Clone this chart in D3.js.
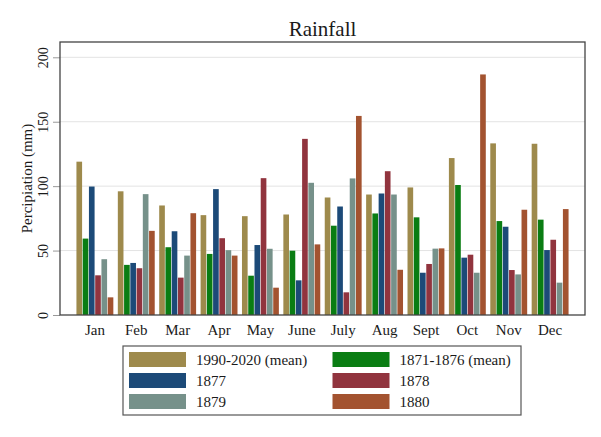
<!DOCTYPE html>
<html>
<head>
    <meta http-equiv="Content-Type" content="text/html;charset=utf-8">
    <title>Rainfall</title>
    <script type="text/javascript" src="https://d3js.org/d3.v7.min.js"></script>
    <style>
        * { margin: 0; padding: 0; box-sizing: border-box; }
        html, body { width: 601px; height: 437px; background: #fff; overflow: hidden; }
        text { font-family: "Liberation Serif", "Times New Roman", serif; fill: #1a1a1a; }
        .grid line { stroke: #e3e3e3; stroke-width: 1px; }
        .axis path { display: none; }
        .axis line { stroke: #999; }
    </style>
</head>
<body>
    <script type="text/javascript">
        // data
        var months = ["Jan", "Feb", "Mar", "Apr", "May", "June", "July", "Aug", "Sept", "Oct", "Nov", "Dec"];
        var seriesNames = ["1990-2020 (mean)", "1871-1876 (mean)", "1877", "1878", "1879", "1880"];
        var seriesColors = ["#9e8a4c", "#0a7d13", "#1c4a78", "#91343e", "#76918a", "#a35330"];
        var mean1990 = [119, 96, 85, 77.5, 76.7, 78, 91.2, 93.5, 99, 121.8, 133.2, 132.9];
        var mean1871 = [59.3, 38.9, 52.6, 47.4, 30.5, 49.9, 69.3, 78.8, 75.8, 100.9, 72.9, 74];
        var y1877 = [99.7, 40.4, 65, 97.7, 54.3, 26.9, 84.2, 94.3, 32.8, 44.5, 68.5, 50.4];
        var y1878 = [30.8, 36.3, 29, 59.6, 106.2, 136.7, 17.6, 111.6, 39.6, 46.8, 34.9, 58.4];
        var y1879 = [43.3, 93.8, 46.1, 50.3, 51.4, 102.6, 106, 93.5, 51.5, 32.8, 31.5, 25.1];
        var y1880 = [13.7, 65.3, 79, 46.1, 21.2, 54.8, 154.5, 35.1, 51.7, 186.7, 81.7, 82.2];
        var yTicks = [0, 50, 100, 150, 200];

        var series = [mean1990, mean1871, y1877, y1878, y1879, y1880];
        var rows = months.map(function (m, i) {
            return { month: m, values: series.map(function (s, j) { return { key: seriesNames[j], value: s[i] }; }) };
        });

        var margin = { left: 60, right: 16, top: 42, bottom: 122 };
        var width = 601 - margin.left - margin.right;
        var height = 437 - margin.top - margin.bottom;

        var svg = d3.select("body").append("svg").attr("width", 601).attr("height", 437);
        var g = svg.append("g").attr("transform", "translate(" + margin.left + "," + margin.top + ")");

        var x0 = d3.scaleBand().domain(months).range([0, width]).paddingInner(0.094).paddingOuter(0.39);
        var x1 = d3.scaleBand().domain(seriesNames).range([0, x0.bandwidth()]);
        var y = d3.scaleLinear().domain([0, 200]).range([height, height - 200 * 1.2885]);
        var color = d3.scaleOrdinal().domain(seriesNames).range(seriesColors);

        // grid
        g.append("g").attr("class", "grid")
            .selectAll("line").data(yTicks.slice(1)).enter().append("line")
            .attr("x1", 0).attr("x2", width)
            .attr("y1", function (d) { return y(d); }).attr("y2", function (d) { return y(d); });

        // bars
        g.append("g").selectAll("g").data(rows).enter().append("g")
            .attr("transform", function (d) { return "translate(" + x0(d.month) + ",0)"; })
            .selectAll("rect").data(function (d) { return d.values; }).enter().append("rect")
            .attr("x", function (d) { return x1(d.key) + 0.3; })
            .attr("width", x1.bandwidth() - 0.6)
            .attr("y", function (d) { return y(d.value); })
            .attr("height", function (d) { return y(0) - y(d.value); })
            .attr("fill", function (d) { return color(d.key); });

        // y axis
        var yAxis = g.append("g").attr("class", "axis y")
            .attr("font-family", "Liberation Serif").attr("font-size", 14)
            .call(d3.axisLeft(y).tickValues(yTicks).tickSize(7).tickPadding(0).tickFormat(d3.format("d")));
        yAxis.selectAll("text")
            .attr("x", 0).attr("dy", 0)
            .attr("transform", "translate(-12,0) rotate(-90)")
            .attr("text-anchor", "middle")
            .style("font-size", "14px");

        // x axis labels
        var xAxis = g.append("g").attr("class", "axis x")
            .attr("font-family", "Liberation Serif").attr("font-size", 15)
            .attr("transform", "translate(0," + height + ")")
            .call(d3.axisBottom(x0).tickSize(0).tickPadding(15));
        xAxis.selectAll("text").style("font-size", "15px").attr("dy", "0.3em");

        // frame
        g.append("rect").attr("x", 0).attr("y", 0).attr("width", width).attr("height", height)
            .attr("fill", "none").attr("stroke", "#444").attr("stroke-width", 1.3);

        // titles
        svg.append("text").attr("x", margin.left + width / 2).attr("y", 36)
            .attr("text-anchor", "middle").style("font-size", "21px").text("Rainfall");
        svg.append("text").attr("transform", "translate(32," + (margin.top + height / 2) + ") rotate(-90)")
            .attr("text-anchor", "middle").style("font-size", "15px").text("Percipiation (mm)");

        // legend
        var legend = svg.append("g").attr("transform", "translate(123,346)");
        legend.append("rect").attr("width", 398).attr("height", 69)
            .attr("fill", "#fff").attr("stroke", "#555").attr("stroke-width", 1.2);
        var item = legend.selectAll("g.item").data(seriesNames).enter().append("g").attr("class", "item")
            .attr("transform", function (d, i) { return "translate(" + (6 + (i % 2) * 203.5) + "," + (6 + Math.floor(i / 2) * 21) + ")"; });
        item.append("rect").attr("width", 57).attr("height", 15)
            .attr("fill", function (d) { return color(d); });
        item.append("text").attr("x", 67).attr("y", 13).style("font-size", "15px").text(function (d) { return d; });
    </script>
</body>
</html>
